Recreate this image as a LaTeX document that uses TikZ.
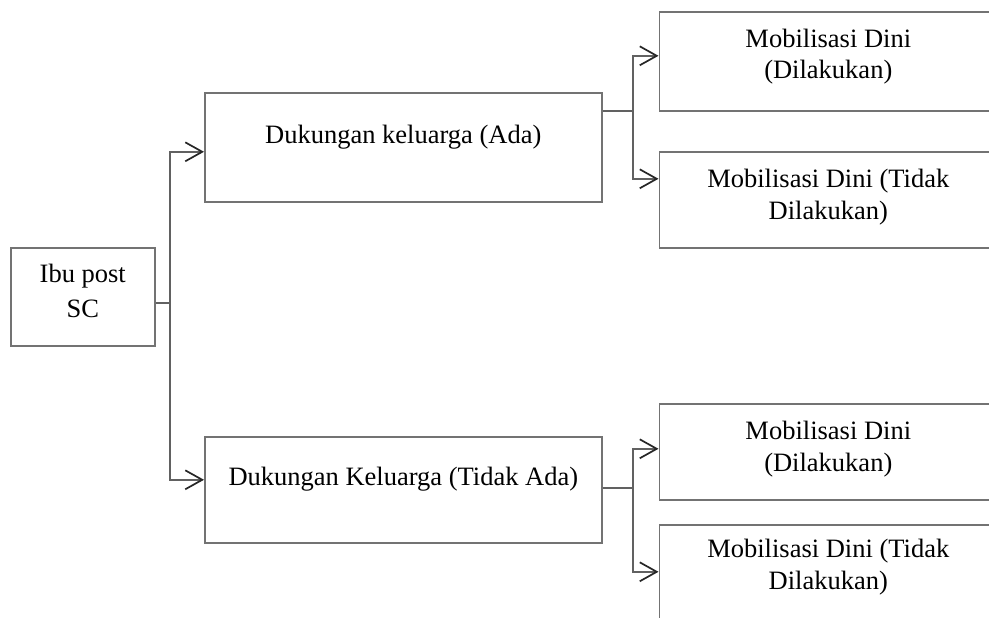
\documentclass[tikz,border=0pt]{standalone}
\usepackage{fontspec}
\setmainfont{Liberation Serif}
\usetikzlibrary{arrows.meta,calc}
\begin{document}
\begin{tikzpicture}[x=1pt,y=-1pt,
  box/.style={draw=black!55, line width=1.6pt, rectangle, inner sep=0pt, anchor=north west},
  txt/.style={inner sep=0pt, align=center, anchor=north, text=black,
    font=\fontsize{26.5pt}{31.6pt}\selectfont},
  conn/.style={draw=black!62, line width=1.6pt},
  arr/.style={conn, -{Straight Barb[length=17pt,width=19pt,line width=1.7pt,color=black!85]}}]
\useasboundingbox (0,0) rectangle (989,618);
\clip (0,0) rectangle (989,618);
% boxes
\node[box, minimum width=144pt, minimum height=98pt] (ibu) at (10,247) {};
\node[box, minimum width=397pt, minimum height=109pt] (d1) at (204,92) {};
\node[box, minimum width=397pt, minimum height=106pt] (d2) at (204,436) {};
\node[box, minimum width=338pt, minimum height=99pt] (m1) at (658.5,11) {};
\node[box, minimum width=338pt, minimum height=96pt] (m2) at (658.5,151) {};
\node[box, minimum width=338pt, minimum height=96pt] (m3) at (658.5,403) {};
\node[box, minimum width=338pt, minimum height=97pt] (m4) at (658.5,524) {};
% texts
\node[txt, font=\fontsize{26.5pt}{35pt}\selectfont] (tibu) at ([yshift=-17pt]ibu.north) {Ibu post\\SC};
\node[txt] (td1) at ([yshift=-33pt]d1.north) {Dukungan keluarga (Ada)};
\node[txt] (td2) at ([yshift=-30.5pt]d2.north) {Dukungan Keluarga (Tidak Ada)};
\node[txt] (tm1) at ([yshift=-17.7pt]m1.north) {Mobilisasi Dini\\(Dilakukan)};
\node[txt] (tm2) at ([yshift=-18pt]m2.north) {Mobilisasi Dini (Tidak\\Dilakukan)};
\node[txt] (tm3) at ([yshift=-18pt]m3.north) {Mobilisasi Dini\\(Dilakukan)};
\node[txt] (tm4) at ([yshift=-15pt]m4.north) {Mobilisasi Dini (Tidak\\Dilakukan)};
% junctions
\coordinate (j0) at (170,303);
\coordinate (j1) at (633,111);
\coordinate (j2) at (633,488);
% left tree
\draw[conn] (j0 -| ibu.east) -- (j0);
\draw[arr] (j0) |- ([yshift=-4.5pt]d1.west);
\draw[arr] (j0) |- ([yshift=10pt]d2.west);
% top-right tree
\draw[conn] (j1 -| d1.east) -- (j1);
\draw[arr] (j1) |- ([yshift=5.5pt]m1.west);
\draw[arr] (j1) |- ([yshift=21pt]m2.west);
% bottom-right tree
\draw[conn] (j2 -| d2.east) -- (j2);
\draw[arr] (j2) |- ([yshift=3pt]m3.west);
\draw[arr] (j2) |- ([yshift=1.5pt]m4.west);
\end{tikzpicture}
\end{document}
